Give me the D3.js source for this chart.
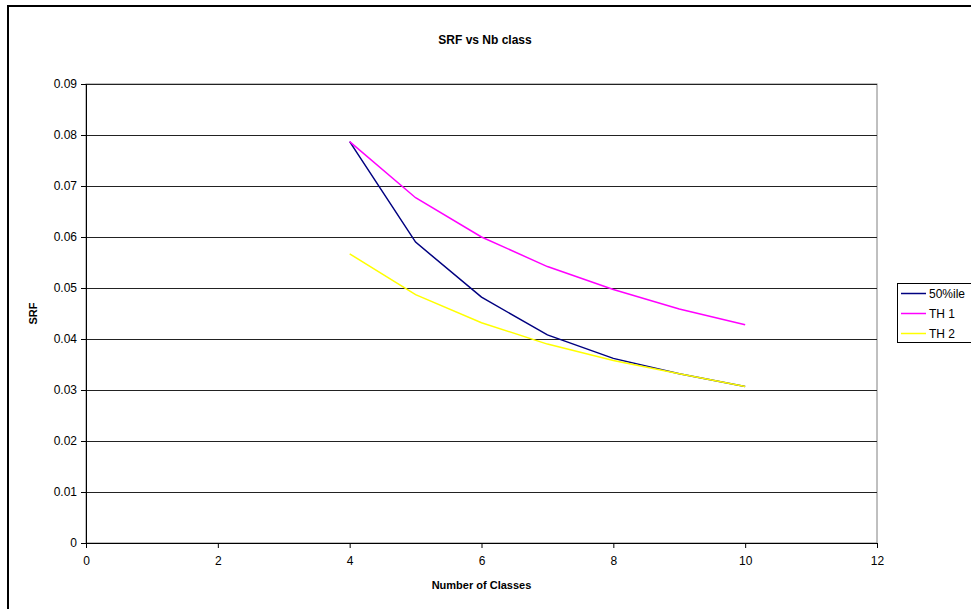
<!DOCTYPE html>
<html>
<head>
<meta charset="utf-8">
<script src="https://cdn.jsdelivr.net/npm/d3@7"></script>
<style>
  html, body { margin: 0; padding: 0; background: #fff; }
  svg { display: block; font-family: "Liberation Sans", Arial, sans-serif; }
</style>
</head>
<body>
<svg id="chart" width="971" height="609"></svg>
<script>
// ---- data ----
const classes = [4, 5, 6, 7, 8, 9, 10];
const p50 = [0.0787, 0.0590, 0.0482, 0.0408, 0.0362, 0.0332, 0.0307];
const th1 = [0.0787, 0.0677, 0.0600, 0.0542, 0.0497, 0.0459, 0.0428];
const th2 = [0.0567, 0.0487, 0.0432, 0.0390, 0.0358, 0.0332, 0.0307];
const seriesNames = ["50%ile", "TH 1", "TH 2"];
const seriesColors = ["#000080", "#FF00FF", "#FFFF00"];
const xTicks = [0, 2, 4, 6, 8, 10, 12];
const yTicks = [0, 0.01, 0.02, 0.03, 0.04, 0.05, 0.06, 0.07, 0.08, 0.09];

const series = [p50, th1, th2].map((vals, i) => ({
  name: seriesNames[i], color: seriesColors[i],
  points: classes.map((c, j) => ({ x: c, y: vals[j] }))
}));

const svg = d3.select("#chart");

// outer chart frame (extends beyond the visible area)
svg.append("rect")
  .attr("x", 8).attr("y", 6)
  .attr("width", 1000).attr("height", 700)
  .attr("fill", "#fff").attr("stroke", "#000").attr("stroke-width", 2);

const plot = { left: 86, top: 84, right: 877, bottom: 543 };
const x = d3.scaleLinear().domain([0, 12]).range([plot.left, plot.right]);
const y = d3.scaleLinear().domain([0, 0.09]).range([plot.bottom, plot.top]);

// plot area border
svg.append("rect")
  .attr("x", plot.left).attr("y", plot.top)
  .attr("width", plot.right - plot.left).attr("height", plot.bottom - plot.top)
  .attr("fill", "#fff").attr("stroke", "#808080").attr("stroke-width", 1);

// gridlines
svg.append("g").selectAll("line")
  .data(yTicks.filter(t => t > 0))
  .join("line")
  .attr("x1", plot.left).attr("x2", plot.right)
  .attr("y1", d => Math.round(y(d)) + 0.5).attr("y2", d => Math.round(y(d)) + 0.5)
  .attr("stroke", "#222").attr("stroke-width", 1);

// axes
const xAxis = d3.axisBottom(x).tickValues(xTicks).tickFormat(d3.format("d")).tickSize(5).tickPadding(8);
const yAxis = d3.axisLeft(y).tickValues(yTicks).tickFormat(d => d === 0 ? "0" : d3.format(".2f")(d)).tickSize(5).tickPadding(4);

const gx = svg.append("g").attr("transform", `translate(0,${plot.bottom})`).call(xAxis);
const gy = svg.append("g").attr("transform", `translate(${plot.left},0)`).call(yAxis);
[gx, gy].forEach(g => {
  g.selectAll("path.domain").attr("stroke", "#000");
  g.selectAll(".tick line").attr("stroke", "#000");
  g.selectAll("text").attr("font-size", 12).attr("fill", "#000")
    .style("font-family", '"Liberation Sans", Arial, sans-serif');
});

// lines
const line = d3.line().x(d => x(d.x)).y(d => y(d.y));
svg.append("g").selectAll("path")
  .data(series)
  .join("path")
  .attr("d", d => line(d.points))
  .attr("fill", "none")
  .attr("stroke", d => d.color)
  .attr("stroke-width", 1.5);

// title
svg.append("text")
  .attr("x", 485).attr("y", 44)
  .attr("text-anchor", "middle")
  .attr("font-size", 12).attr("font-weight", "bold")
  .text("SRF vs Nb class");

// x axis title
svg.append("text")
  .attr("x", (plot.left + plot.right) / 2).attr("y", 589)
  .attr("text-anchor", "middle")
  .attr("font-size", 11).attr("font-weight", "bold")
  .text("Number of Classes");

// y axis title
svg.append("text")
  .attr("transform", `translate(37,${(plot.top + plot.bottom) / 2}) rotate(-90)`)
  .attr("text-anchor", "middle")
  .attr("font-size", 11).attr("font-weight", "bold")
  .text("SRF");

// legend
const lg = svg.append("g");
lg.append("rect")
  .attr("x", 897.5).attr("y", 283.5)
  .attr("width", 90).attr("height", 59)
  .attr("fill", "#fff").attr("stroke", "#000").attr("stroke-width", 1);
const items = lg.selectAll("g.item")
  .data(series)
  .join("g").attr("class", "item")
  .attr("transform", (d, i) => `translate(0,${293.5 + i * 20})`);
items.append("line")
  .attr("x1", 901).attr("x2", 926)
  .attr("stroke", d => d.color).attr("stroke-width", 1.5);
items.append("text")
  .attr("x", 929).attr("y", 4)
  .attr("font-size", 12)
  .text(d => d.name);
</script>
</body>
</html>
